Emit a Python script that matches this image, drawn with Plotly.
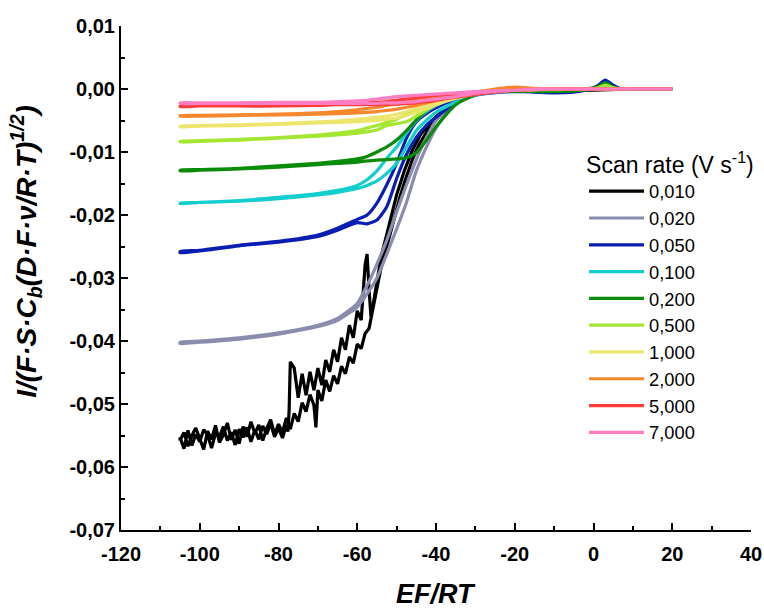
import plotly.graph_objects as go

# ---------------- data ----------------
SCAN_RATES = ["0,010", "0,020", "0,050", "0,100", "0,200", "0,500", "1,000", "2,000", "5,000", "7,000"]
COLORS = ["#000000", "#8c8cae", "#0a1eb4", "#14cdcd", "#0a8c0a", "#a5e632", "#ede66e", "#f5872d", "#ff3c3c", "#ff7dc3"]

# potential grid (EF/RT) shared by the smooth sweeps
E_GRID = [20, 10, 7, 5, 3, 1, -2, -5, -10, -15, -20, -25, -30, -35, -40, -42.5, -45,
          -47.5, -50, -52.5, -55, -57.5, -60, -65, -70, -80, -90, -100, -105]

GREY_UP = [0, 0, 0, 0, 0, 0, 0, -0.0001, -0.0002, -0.0002, -0.0002, -0.0003, -0.0006, -0.0018, -0.0050, -0.0078, -0.0112,
           -0.0152, -0.0195, -0.0240, -0.0278, -0.0312, -0.0340, -0.0364, -0.0375, -0.0387, -0.0395, -0.0400, -0.0402]
GREY_LO = [0, 0, 0, 0, 0, 0, -0.0001, -0.0002, -0.0003, -0.0003, -0.0003, -0.0004, -0.0009, -0.0024, -0.0062, -0.0093, -0.0130,
           -0.0180, -0.0222, -0.0262, -0.0300, -0.0325, -0.0346, -0.0367, -0.0377, -0.0389, -0.0397, -0.0402, -0.0404]

BLUE_UP = [0, 0, 0, 0.0006, 0.0014, 0.0005, -0.0002, -0.0005, -0.0006, -0.0005, -0.0004, -0.0005, -0.0008, -0.0016, -0.0030, -0.0039, -0.0052,
           -0.0078, -0.0118, -0.0152, -0.0181, -0.0200, -0.0207, -0.0221, -0.0232, -0.0242, -0.0248, -0.0256, -0.0258]
BLUE_LO = [0, 0, 0, 0, 0, 0, 0, -0.0001, -0.0002, -0.0003, -0.0004, -0.0006, -0.0010, -0.0022, -0.0045, -0.0058, -0.0077,
           -0.0104, -0.0142, -0.0187, -0.0208, -0.0214, -0.0212, -0.0224, -0.0234, -0.0243, -0.0249, -0.0257, -0.0260]

CYAN_UP = [0, 0, 0, 0.0002, 0.0005, 0.0002, 0, -0.0001, -0.0002, -0.0002, -0.0002, -0.0003, -0.0006, -0.0013, -0.0026, -0.0036, -0.0050,
           -0.0070, -0.0092, -0.0110, -0.0130, -0.0144, -0.0153, -0.0161, -0.0166, -0.0172, -0.0177, -0.0180, -0.0181]
CYAN_LO = [0, 0, 0, 0, 0, 0, -0.0001, -0.0002, -0.0003, -0.0003, -0.0003, -0.0005, -0.0010, -0.0021, -0.0037, -0.0050, -0.0066,
           -0.0092, -0.0118, -0.0134, -0.0146, -0.0153, -0.0158, -0.0164, -0.0168, -0.0174, -0.0178, -0.0180, -0.0182]

GREEN_UP = [0, 0, 0, 0.0003, 0.0010, 0.0003, 0, -0.0001, -0.0002, -0.0002, -0.0002, -0.0003, -0.0005, -0.0011, -0.0023, -0.0034, -0.0049,
            -0.0066, -0.0081, -0.0092, -0.0100, -0.0107, -0.0111, -0.0115, -0.0118, -0.0122, -0.0126, -0.0128, -0.0129]
GREEN_LO = [0, 0, 0, 0, 0, 0, -0.0001, -0.0003, -0.0004, -0.0004, -0.0004, -0.0004, -0.0009, -0.0025, -0.0060, -0.0082, -0.0101,
            -0.0109, -0.0111, -0.0112, -0.0113, -0.0114, -0.0116, -0.0118, -0.0120, -0.0124, -0.0127, -0.0129, -0.0130]

LGREEN_UP = [0, 0, 0, 0.0002, 0.0006, 0.0002, 0, 0, 0, 0, -0.0001, -0.0002, -0.0005, -0.0011, -0.0021, -0.0027, -0.0033,
             -0.0040, -0.0048, -0.0053, -0.0058, -0.0062, -0.0066, -0.0070, -0.0073, -0.0077, -0.0080, -0.0082, -0.0083]
LGREEN_LO = [0, 0, 0, 0, 0, 0, 0, 0, -0.0001, -0.0001, -0.0002, -0.0003, -0.0006, -0.0013, -0.0025, -0.0034, -0.0043,
             -0.0052, -0.0055, -0.0058, -0.0065, -0.0068, -0.0070, -0.0073, -0.0075, -0.0078, -0.0081, -0.0083, -0.0084]

YELLOW_UP = [0, 0, 0, 0, 0, 0, 0, 0, 0, 0, -0.0001, -0.0003, -0.0006, -0.0012, -0.0021, -0.0026, -0.0031,
             -0.0036, -0.0040, -0.0043, -0.0045, -0.0047, -0.0048, -0.0051, -0.0052, -0.0055, -0.0057, -0.0058, -0.0059]
YELLOW_LO = [0, 0, 0, 0, 0, 0, 0, 0, 0, -0.0001, -0.0002, -0.0004, -0.0008, -0.0015, -0.0025, -0.0031, -0.0037,
             -0.0042, -0.0046, -0.0048, -0.0050, -0.0051, -0.0052, -0.0053, -0.0054, -0.0056, -0.0058, -0.0059, -0.0060]

ORANGE_UP = [0, 0, 0, 0, 0, 0, 0, 0, 0, 0.0001, 0.0003, 0, -0.0005, -0.0008, -0.0013, -0.0016, -0.0018,
             -0.0021, -0.0024, -0.0026, -0.0029, -0.0031, -0.0033, -0.0036, -0.0038, -0.0040, -0.0041, -0.0042, -0.0042]
ORANGE_LO = [0, 0, 0, 0, 0, 0, 0, 0, 0, 0, -0.0001, -0.0003, -0.0006, -0.0011, -0.0018, -0.0022, -0.0026,
             -0.0029, -0.0032, -0.0034, -0.0036, -0.0037, -0.0038, -0.0039, -0.0040, -0.0041, -0.0042, -0.0043, -0.0043]

RED_UP = [0, 0, 0, 0, 0, 0, 0, 0, 0, -0.0001, -0.0002, -0.0004, -0.0006, -0.0008, -0.0010, -0.0012, -0.0014,
          -0.0016, -0.0018, -0.0020, -0.0021, -0.0022, -0.0023, -0.0024, -0.0025, -0.0026, -0.0026, -0.0027, -0.0027]
RED_LO = [0, 0, 0, 0, 0, 0, 0, 0, 0, -0.0001, -0.0002, -0.0005, -0.0009, -0.0013, -0.0018, -0.0020, -0.0022,
          -0.0023, -0.0024, -0.0024, -0.0025, -0.0025, -0.0025, -0.0025, -0.0026, -0.0027, -0.0027, -0.0027, -0.0028]

PINK_UP = [0, 0, 0, 0, 0, 0, 0, 0, 0, -0.0001, -0.0002, -0.0003, -0.0004, -0.0006, -0.0008, -0.0009, -0.0010,
           -0.0011, -0.0012, -0.0014, -0.0016, -0.0018, -0.0019, -0.0020, -0.0021, -0.0021, -0.0022, -0.0022, -0.0022]
PINK_LO = [0, 0, 0, 0, 0, 0, 0, 0, 0, 0, -0.0002, -0.0004, -0.0007, -0.0012, -0.0016, -0.0018, -0.0020,
           -0.0021, -0.0022, -0.0022, -0.0023, -0.0023, -0.0023, -0.0023, -0.0023, -0.0023, -0.0023, -0.0023, -0.0023]

# the 0,010 V/s sweep is noisy: both branches listed point by point
BLACK_E_FWD = [20, 10, 0, -10, -20, -25, -30, -35, -38, -40, -42, -44, -46, -48, -50, -52, -54, -55, -56, -56.5,
               -57, -57.5, -58, -58.5, -59, -60, -61, -62, -63, -64, -65, -66, -67, -68, -69, -70, -71, -72, -73,
               -74, -75, -76, -77, -77.3, -77.6, -78, -79, -80, -81, -82, -83, -84, -85, -86, -87, -88, -89, -90,
               -91, -92, -93, -94, -95, -96, -97, -98, -99, -100, -101, -102, -103, -104, -105]
BLACK_I_FWD = [0, 0, -0.0002, -0.0002, -0.0002, -0.0003, -0.0006, -0.0017, -0.0033, -0.0044, -0.0057, -0.0073, -0.0097,
               -0.0129, -0.0168, -0.0216, -0.0268, -0.0306, -0.0343, -0.0363, -0.0319, -0.0262, -0.0279, -0.0327, -0.0367,
               -0.0352, -0.0395, -0.0375, -0.0414, -0.0395, -0.0433, -0.0414, -0.0449, -0.0430, -0.0470, -0.0443, -0.0478,
               -0.0449, -0.0486, -0.0452, -0.0490, -0.0443, -0.0433, -0.0510, -0.0544, -0.0533, -0.0554, -0.0538, -0.0552,
               -0.0531, -0.0548, -0.0535, -0.0556, -0.0541, -0.0560, -0.0537, -0.0553, -0.0540, -0.0565, -0.0545, -0.0558,
               -0.0536, -0.0552, -0.0547, -0.0570, -0.0549, -0.0541, -0.0560, -0.0548, -0.0566, -0.0542, -0.0571, -0.0553]
BLACK_E_REV = [-105, -104, -103, -102, -101, -100, -99, -98, -97, -96, -95, -94, -93, -92, -91, -90, -89, -88, -87, -86,
               -85, -84, -83, -82, -81, -80, -79, -78, -77, -76, -75, -74, -73, -72, -71, -70.5, -70, -69, -68, -67, -66,
               -65, -64, -63, -62, -61, -60, -59, -58, -57, -56, -55, -54, -53, -52, -51, -50, -49, -48, -47, -46, -45,
               -44, -42, -40, -38, -35, -30, -25, -20, -10, 0, 10, 20]
BLACK_I_REV = [-0.0558, -0.0545, -0.0567, -0.0550, -0.0538, -0.0555, -0.0572, -0.0543, -0.0556, -0.0534, -0.0561, -0.0549,
               -0.0530, -0.0557, -0.0541, -0.0563, -0.0536, -0.0552, -0.0528, -0.0547, -0.0533, -0.0558, -0.0539, -0.0525,
               -0.0548, -0.0532, -0.0545, -0.0522, -0.0540, -0.0515, -0.0528, -0.0498, -0.0512, -0.0485, -0.0502, -0.0537,
               -0.0478, -0.0495, -0.0462, -0.0480, -0.0455, -0.0468, -0.0440, -0.0452, -0.0425, -0.0435, -0.0405, -0.0412,
               -0.0388, -0.0380, -0.0350, -0.0318, -0.0285, -0.0262, -0.0238, -0.0212, -0.0190, -0.0168, -0.0148, -0.0128,
               -0.0112, -0.0097, -0.0085, -0.0065, -0.0049, -0.0036, -0.0021, -0.0008, -0.0004, -0.0002, -0.0002, -0.0001,
               0, 0]

X_TICKS = [-120, -100, -80, -60, -40, -20, 0, 20, 40]
X_TICK_LABELS = ["-120", "-100", "-80", "-60", "-40", "-20", "0", "20", "40"]
Y_TICKS = [0.01, 0.0, -0.01, -0.02, -0.03, -0.04, -0.05, -0.06, -0.07]
Y_TICK_LABELS = ["0,01", "0,00", "-0,01", "-0,02", "-0,03", "-0,04", "-0,05", "-0,06", "-0,07"]

SMOOTH = [
    (GREY_UP, GREY_LO), (BLUE_UP, BLUE_LO), (CYAN_UP, CYAN_LO), (GREEN_UP, GREEN_LO),
    (LGREEN_UP, LGREEN_LO), (YELLOW_UP, YELLOW_LO), (ORANGE_UP, ORANGE_LO), (RED_UP, RED_LO), (PINK_UP, PINK_LO),
]

FONT = "Liberation Sans, Arial, sans-serif"

fig = go.Figure()
fig.add_trace(go.Scatter(x=BLACK_E_FWD + BLACK_E_REV, y=BLACK_I_FWD + BLACK_I_REV, mode="lines",
                         line=dict(color=COLORS[0], width=3.2), name=SCAN_RATES[0]))
for i, (up, lo) in enumerate(SMOOTH):
    xs = E_GRID + E_GRID[::-1]
    ys = lo + up[::-1]
    fig.add_trace(go.Scatter(x=xs, y=ys, mode="lines", line=dict(color=COLORS[i + 1], width=3.2,
                                                                    shape="spline", smoothing=0.6),
                             name=SCAN_RATES[i + 1]))

axis_common = dict(showgrid=False, zeroline=False, showline=True, linecolor="black", linewidth=2,
                   ticks="inside", ticklen=7, tickwidth=2, tickcolor="black",
                   tickfont=dict(family=FONT, size=20, color="black", weight="bold"),
                   minor=dict(ticks="inside", ticklen=4, tickwidth=2, tickcolor="black"))

fig.update_xaxes(range=[-120, 40], tickmode="array", tickvals=X_TICKS, ticktext=X_TICK_LABELS,
                 minor_dtick=10, ticklabelstandoff=5, **axis_common)
fig.update_yaxes(range=[-0.07, 0.01], tickmode="array", tickvals=Y_TICKS, ticktext=Y_TICK_LABELS,
                 minor_dtick=0.005, **axis_common)

fig.update_layout(
    width=764, height=610,
    margin=dict(l=121, r=13, t=26, b=80, autoexpand=False),
    plot_bgcolor="white", paper_bgcolor="white",
    font=dict(family=FONT, color="black"),
    legend=dict(x=0.735, y=0.768, xanchor="left", yanchor="top", bgcolor="rgba(0,0,0,0)",
                font=dict(family=FONT, size=18.3, color="black"),
                title=dict(text="Scan rate (V s<sup>-1</sup>)", font=dict(family=FONT, size=23, color="black")),
                itemwidth=55, tracegroupgap=0),
    annotations=[
        dict(text="<b><i>EF/RT</i></b>", xref="paper", yref="paper", x=0.5, y=-0.127, xanchor="center",
             yanchor="middle", showarrow=False, font=dict(family=FONT, size=27, color="black")),
        dict(text="<b><i>I/(F·S·C<sub>b</sub>(D·F·ν/R·T)<sup>1/2</sup>)</i></b>", xref="paper", yref="paper",
             x=-0.15, y=0.553, xanchor="center", yanchor="middle", textangle=-90, showarrow=False,
             font=dict(family=FONT, size=28, color="black")),
    ],
)

fig.write_html("out.html")
